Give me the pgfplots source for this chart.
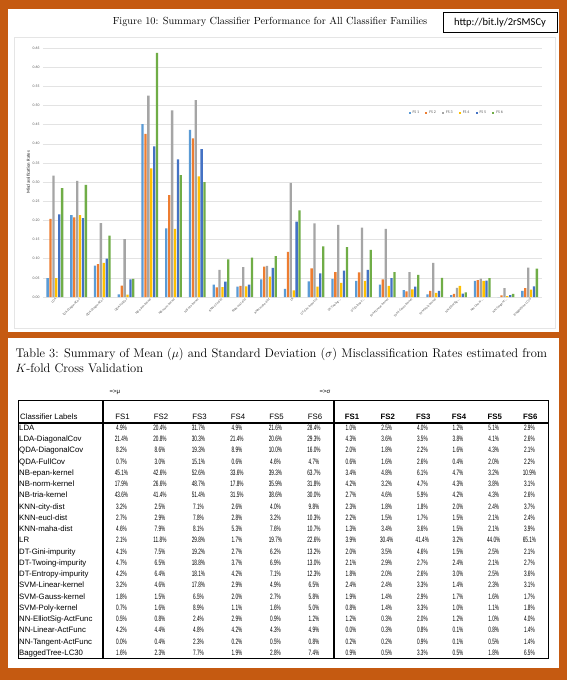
\documentclass[border=0pt]{standalone}
\usepackage{fontspec}
\usepackage{pgfplots}
\pgfplotsset{compat=1.18}
\usepackage{pgfplotstable}
\usepackage{array}

\newfontfamily\tabfont{Liberation Sans}
\newfontfamily\numfont[FakeStretch=0.6]{Liberation Sans}
\newfontfamily\xlfont{Carlito}

\definecolor{frame}{HTML}{C55A11}
\definecolor{fsA}{HTML}{5B9BD5}
\definecolor{fsB}{HTML}{ED7D31}
\definecolor{fsC}{HTML}{A5A5A5}
\definecolor{fsD}{HTML}{FFC000}
\definecolor{fsE}{HTML}{4472C4}
\definecolor{fsF}{HTML}{70AD47}
\definecolor{ticktxt}{HTML}{595959}

% mean misclassification rates (mu), one row per classifier
\pgfplotstableread{
idx FS1   FS2   FS3   FS4   FS5   FS6
0   0.049 0.204 0.317 0.049 0.216 0.284
1   0.214 0.208 0.303 0.214 0.206 0.293
2   0.082 0.086 0.193 0.089 0.100 0.160
3   0.007 0.030 0.151 0.006 0.046 0.047
4   0.451 0.426 0.526 0.336 0.393 0.637
5   0.179 0.266 0.487 0.178 0.359 0.318
6   0.436 0.414 0.514 0.315 0.386 0.300
7   0.032 0.025 0.071 0.026 0.040 0.098
8   0.027 0.029 0.078 0.028 0.032 0.103
9   0.046 0.079 0.081 0.053 0.076 0.107
10  0.021 0.118 0.298 0.017 0.197 0.226
11  0.041 0.075 0.192 0.027 0.062 0.132
12  0.047 0.065 0.188 0.037 0.069 0.130
13  0.042 0.064 0.181 0.042 0.071 0.123
14  0.032 0.046 0.178 0.029 0.049 0.065
15  0.018 0.015 0.065 0.020 0.027 0.058
16  0.007 0.016 0.089 0.011 0.016 0.050
17  0.005 0.008 0.024 0.029 0.009 0.012
18  0.042 0.044 0.048 0.042 0.043 0.049
19  0.000 0.004 0.023 0.002 0.005 0.008
20  0.016 0.023 0.077 0.019 0.028 0.074
}\mutab

\newcolumntype{M}{>{\centering\arraybackslash\numfont}p{38.5pt}<{\%}}
\newcolumntype{S}{>{\centering\arraybackslash\numfont}p{35.67pt}<{\%}}
\newcolumntype{H}{>{\centering\arraybackslash}p{38.5pt}}
\newcolumntype{B}{>{\centering\arraybackslash\bfseries}p{35.67pt}}

\begin{document}
\begin{tikzpicture}[x=1pt,y=1pt]
% frame and panels
\fill[frame] (0,0) rectangle (567,-680);
\fill[white] (8,-9) rectangle (559,-332);
\fill[white] (8,-338) rectangle (559,-668);
\draw[gray!20] (14,-37) rectangle (555,-328);

% title and link box
\node[font=\fontsize{10.3}{12}\selectfont] at (270,-22) {Figure 10: Summary Classifier Performance for All Classifier Families};
\node[draw, line width=0.8pt, minimum width=114pt, minimum height=20pt, inner sep=0pt,
      font=\xlfont\fontsize{10.5}{12}\selectfont] at (500,-22.5) {http://bit.ly/2rSMSCy};

\begin{axis}[
    at={(43pt,-297pt)}, anchor=south west,
    scale only axis, width=498.5pt, height=249pt,
    ybar=0.6pt, bar width=2.3pt,
    xmin=-0.5, xmax=20.5, ymin=0, ymax=0.65,
    xtick={0,...,20},
    xticklabels={LDA, LDA-DiagonalCov, QDA-DiagonalCov, QDA-FullCov, NB-epan-kernel,
      NB-norm-kernel, NB-tria-kernel, KNN-city-dist, KNN-eucl-dist, KNN-maha-dist, LR,
      DT-Gini-impurity, {DT-Twoing-…}, {DT-Entropy-…}, SVM-Linear-kernel, SVM-Gauss-kernel,
      SVM-Poly-kernel, {NN-ElliotSig-…}, {NN-Linear-…}, {NN-Tangent-…}, BaggedTree-LC30},
    x tick label style={rotate=45, anchor=north east, inner sep=0.6pt,
      font=\xlfont\fontsize{3.3}{3.6}\selectfont, text=ticktxt},
    ytick={0,0.05,0.1,0.15,0.2,0.25,0.3,0.35,0.4,0.45,0.5,0.55,0.6,0.65},
    yticklabel style={font=\xlfont\fontsize{3.8}{4}\selectfont, text=ticktxt,
      /pgf/number format/.cd, fixed, fixed zerofill, precision=2, assume math mode=true},
    ylabel={Misclassification Rates},
    ylabel style={font=\xlfont\bfseries\fontsize{4.6}{5}\selectfont, text=ticktxt, yshift=-4pt},
    ymajorgrids, major grid style={color=gray!22, line width=0.5pt},
    axis line style={draw=none}, major tick length=0pt,
    legend style={at={(0.83,0.738)}, anchor=center, draw=none, fill=none,
      legend columns=6, font=\xlfont\fontsize{4}{5}\selectfont, text=ticktxt,
      /tikz/every even column/.append style={column sep=4pt}},
    legend image code/.code={\fill[#1] (0pt,-1.1pt) rectangle (2.2pt,1.1pt);},
]
\addplot[fill=fsA, draw=none] table[x=idx, y=FS1] {\mutab};
\addplot[fill=fsB, draw=none] table[x=idx, y=FS2] {\mutab};
\addplot[fill=fsC, draw=none] table[x=idx, y=FS3] {\mutab};
\addplot[fill=fsD, draw=none] table[x=idx, y=FS4] {\mutab};
\addplot[fill=fsE, draw=none] table[x=idx, y=FS5] {\mutab};
\addplot[fill=fsF, draw=none] table[x=idx, y=FS6] {\mutab};
\legend{FS 1, FS 2, FS 3, FS 4, FS 5, FS 6}
\end{axis}

% table caption
\node[anchor=base west, font=\fontsize{12.5}{15}\selectfont] at (12,-357)
  {Table 3: Summary of Mean ($\mu$) and Standard Deviation ($\sigma$) Misclassification Rates estimated from};
\node[anchor=base west, font=\fontsize{12.5}{15}\selectfont] at (12,-372)
  {$K$-fold Cross Validation};
\node[anchor=west, font=\tabfont\fontsize{6}{7}\selectfont] at (106,-392) {=>μ};
\node[anchor=west, font=\tabfont\fontsize{6}{7}\selectfont] at (316,-392) {=>σ};

% table header
\node[anchor=north west, inner sep=0pt, font=\tabfont\fontsize{7.8}{11.24}\selectfont] at (18,-400) {%
\setlength{\tabcolsep}{0pt}%
\begin{tabular}{@{}p{85pt}*{6}{H}*{6}{B}@{}}
\rule{0pt}{19pt}\hspace{2pt}Classifier Labels & FS1 & FS2 & FS3 & FS4 & FS5 & FS6 & FS1 & FS2 & FS3 & FS4 & FS5 & FS6
\end{tabular}};

% table body: mean and standard deviation (percent)
\node[anchor=north west, inner sep=0pt, font=\tabfont\fontsize{7.8}{11.24}\selectfont] at (18,-422.4) {%
\setlength{\tabcolsep}{0pt}%
\begin{tabular}{@{}>{\hspace{1pt}}p{84pt}*{6}{M}*{6}{S}@{}}
LDA & 4.9 & 20.4 & 31.7 & 4.9 & 21.6 & 28.4 & 1.0 & 2.5 & 4.0 & 1.2 & 5.1 & 2.9\\
LDA-DiagonalCov & 21.4 & 20.8 & 30.3 & 21.4 & 20.6 & 29.3 & 4.3 & 3.6 & 3.5 & 3.8 & 4.1 & 2.6\\
QDA-DiagonalCov & 8.2 & 8.6 & 19.3 & 8.9 & 10.0 & 16.0 & 2.0 & 1.8 & 2.2 & 1.6 & 4.3 & 2.1\\
QDA-FullCov & 0.7 & 3.0 & 15.1 & 0.6 & 4.6 & 4.7 & 0.6 & 1.6 & 2.6 & 0.4 & 2.0 & 2.2\\
NB-epan-kernel & 45.1 & 42.6 & 52.6 & 33.6 & 39.3 & 63.7 & 3.4 & 4.8 & 6.1 & 4.7 & 3.2 & 10.9\\
NB-norm-kernel & 17.9 & 26.6 & 48.7 & 17.8 & 35.9 & 31.8 & 4.2 & 3.2 & 4.7 & 4.3 & 3.8 & 3.1\\
NB-tria-kernel & 43.6 & 41.4 & 51.4 & 31.5 & 38.6 & 30.0 & 2.7 & 4.6 & 5.9 & 4.2 & 4.3 & 2.6\\
KNN-city-dist & 3.2 & 2.5 & 7.1 & 2.6 & 4.0 & 9.8 & 2.3 & 1.8 & 1.8 & 2.0 & 2.4 & 3.7\\
KNN-eucl-dist & 2.7 & 2.9 & 7.8 & 2.8 & 3.2 & 10.3 & 2.2 & 1.5 & 1.7 & 1.5 & 2.1 & 2.4\\
KNN-maha-dist & 4.6 & 7.9 & 8.1 & 5.3 & 7.6 & 10.7 & 1.3 & 3.4 & 3.6 & 1.5 & 2.1 & 3.9\\
LR & 2.1 & 11.8 & 29.8 & 1.7 & 19.7 & 22.6 & 3.9 & 30.4 & 41.4 & 3.2 & 44.0 & 65.1\\
DT-Gini-impurity & 4.1 & 7.5 & 19.2 & 2.7 & 6.2 & 13.2 & 2.0 & 3.5 & 4.6 & 1.5 & 2.5 & 2.1\\
DT-Twoing-impurity & 4.7 & 6.5 & 18.8 & 3.7 & 6.9 & 13.0 & 2.1 & 2.9 & 2.7 & 2.4 & 2.1 & 2.7\\
DT-Entropy-impurity & 4.2 & 6.4 & 18.1 & 4.2 & 7.1 & 12.3 & 1.8 & 2.0 & 2.6 & 3.0 & 2.5 & 3.6\\
SVM-Linear-kernel & 3.2 & 4.6 & 17.8 & 2.9 & 4.9 & 6.5 & 2.4 & 2.4 & 3.3 & 1.4 & 2.3 & 3.1\\
SVM-Gauss-kernel & 1.8 & 1.5 & 6.5 & 2.0 & 2.7 & 5.8 & 1.9 & 1.4 & 2.9 & 1.7 & 1.6 & 1.7\\
SVM-Poly-kernel & 0.7 & 1.6 & 8.9 & 1.1 & 1.6 & 5.0 & 0.8 & 1.4 & 3.3 & 1.0 & 1.1 & 1.8\\
NN-ElliotSig-ActFunc & 0.5 & 0.8 & 2.4 & 2.9 & 0.9 & 1.2 & 1.2 & 0.3 & 2.0 & 1.2 & 1.0 & 4.0\\
NN-Linear-ActFunc & 4.2 & 4.4 & 4.8 & 4.2 & 4.3 & 4.9 & 0.0 & 0.3 & 0.8 & 0.1 & 0.8 & 1.4\\
NN-Tangent-ActFunc & 0.0 & 0.4 & 2.3 & 0.2 & 0.5 & 0.8 & 0.2 & 0.2 & 0.9 & 0.1 & 0.5 & 1.4\\
BaggedTree-LC30 & 1.6 & 2.3 & 7.7 & 1.9 & 2.8 & 7.4 & 0.9 & 0.5 & 3.3 & 0.5 & 1.8 & 6.5
\end{tabular}};

% table rules
\draw[line width=0.8pt] (18,-400) rectangle (548,-658);
\draw[line width=1.6pt] (103,-400) -- (103,-658);
\draw[line width=1.6pt] (334,-400) -- (334,-658);
\draw[line width=1.3pt] (18,-423) -- (548,-423);
\end{tikzpicture}
\end{document}
